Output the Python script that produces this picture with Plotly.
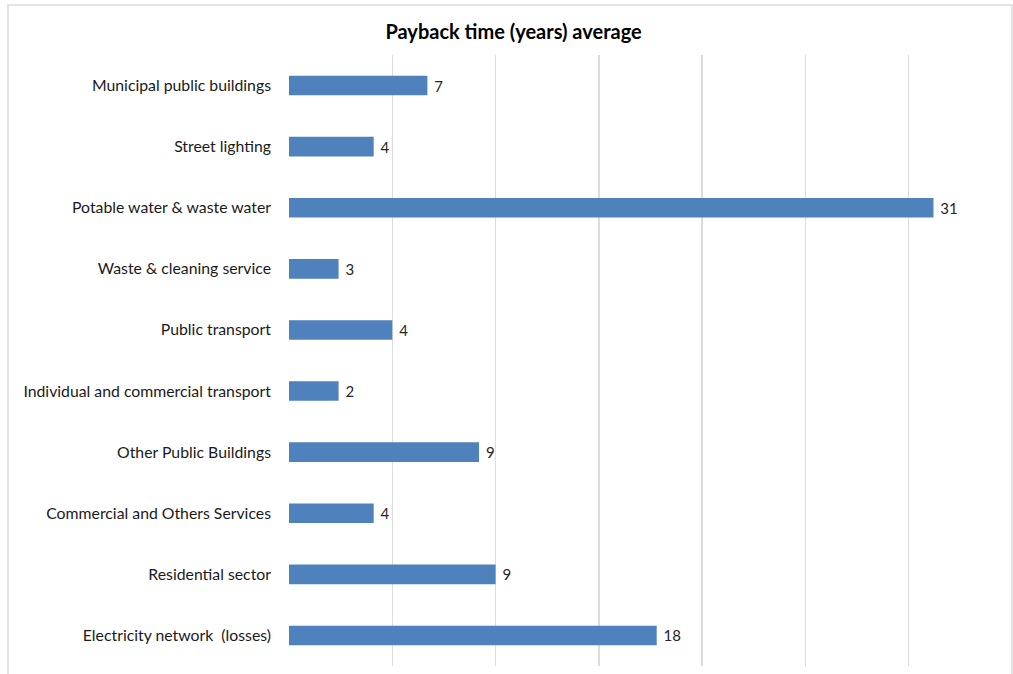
import plotly.graph_objects as go

categories = [
    "Municipal public buildings",
    "Street lighting",
    "Potable water & waste water",
    "Waste & cleaning service",
    "Public transport",
    "Individual and commercial transport",
    "Other Public Buildings",
    "Commercial and Others Services",
    "Residential sector",
    "Electricity network  (losses)",
]
values = [6.7, 4.1, 31.2, 2.4, 5.0, 2.4, 9.2, 4.1, 10.0, 17.8]
labels = ["7", "4", "31", "3", "4", "2", "9", "4", "9", "18"]
x_ticks = [0, 5, 10, 15, 20, 25, 30, 35]

fig = go.Figure(
    go.Bar(
        y=categories,
        x=values,
        orientation="h",
        marker=dict(color="#4F81BD", line=dict(width=0)),
        width=0.32,
        text=[" " + t for t in labels],
        textposition="outside",
        cliponaxis=False,
        textfont=dict(family="Lato, Open Sans, sans-serif", size=15, color="#262626"),
        hoverinfo="skip",
    )
)

fig.update_layout(
    width=1013,
    height=674,
    margin=dict(l=289, r=1, t=55, b=8),
    paper_bgcolor="white",
    plot_bgcolor="white",
    showlegend=False,
    title=dict(
        text="<b>Payback time (years) average</b>",
        x=0.507,
        xanchor="center",
        y=0.953,
        yanchor="middle",
        font=dict(family="Lato, Open Sans, sans-serif", size=20, color="#000000"),
    ),
    xaxis=dict(
        range=[0, 35],
        tickvals=x_ticks,
        showticklabels=False,
        showgrid=True,
        gridcolor="#DCDCDC",
        gridwidth=1.5,
        zeroline=False,
        showline=False,
        fixedrange=True,
    ),
    yaxis=dict(
        autorange="reversed",
        showgrid=False,
        showline=False,
        ticks="",
        ticklabelstandoff=17,
        tickfont=dict(family="Lato, Open Sans, sans-serif", size=15.8, color="#1a1a1a"),
        fixedrange=True,
    ),
)

# outer chart border (light gray) like the original chart frame
fig.add_shape(
    type="rect",
    xref="paper", yref="paper",
    x0=-281 / 723, x1=1.0, y0=-0.05, y1=1 + 50 / 611,
    line=dict(color="#DCDCDC", width=1.5),
    fillcolor="rgba(0,0,0,0)",
    layer="below",
)

fig.write_html(
    "out.html",
    config={"displayModeBar": False, "staticPlot": True},
    post_script="document.body.style.margin='0';",
)
